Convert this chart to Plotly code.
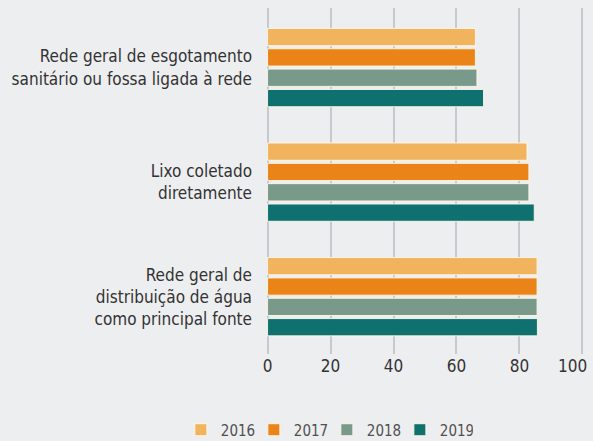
import plotly.graph_objects as go

categories = [
    "Rede geral de esgotamento<br>sanitário ou fossa ligada à rede",
    "Lixo coletado<br>diretamente",
    "Rede geral de<br>distribuição de água<br>como principal fonte",
]
years = ["2016", "2017", "2018", "2019"]
values_2016 = [66.0, 82.4, 85.6]
values_2017 = [66.0, 83.0, 85.6]
values_2018 = [66.5, 83.0, 85.6]
values_2019 = [68.6, 84.7, 85.7]
colors = ["#F2B35F", "#EA8418", "#79998A", "#0F7070"]
tick_vals = [0, 20, 40, 60, 80, 100]
tick_text = ["0", "20", "40", "60", "80", "100"]

series = [values_2016, values_2017, values_2018, values_2019]

FONT = "DejaVu Sans Condensed, Liberation Sans Narrow, sans-serif"
BG = "#EDEEF0"
XRANGE = [-0.5, 100.5]
TICKFONT = dict(size=17, color="#333333", family=FONT)

fig = go.Figure()
for year, vals, col in zip(years, series, colors):
    fig.add_trace(go.Bar(
        y=categories, x=vals, name=year, orientation="h",
        marker=dict(color=col, line=dict(color="rgba(255,248,232,0.9)", width=1)),
    ))

# the last tick label sits pulled inward (as in the original) so it stays inside the chart
fig.add_annotation(
    x=tick_vals[-1], xref="x", y=0, yref="paper", yanchor="top",
    text=tick_text[-1], showarrow=False, xshift=-10, font=TICKFONT,
)

fig.update_layout(
    width=593, height=441,
    paper_bgcolor=BG, plot_bgcolor=BG,
    margin=dict(l=266, r=9, t=8, b=87, autoexpand=False),
    barmode="group", bargap=0.29, bargroupgap=0.15,
    font=dict(family=FONT, color="#333333"),
    showlegend=True,
    legend=dict(
        orientation="h", xref="container", yref="container",
        x=0.305, xanchor="left", y=0.025, yanchor="middle",
        font=dict(size=15, color="#505050", family=FONT),
        entrywidth=28, bgcolor="rgba(0,0,0,0)",
    ),
    xaxis=dict(
        range=XRANGE, tickvals=tick_vals, ticktext=tick_text[:-1] + [""],
        showgrid=True, gridcolor="#C8C9CC", gridwidth=1.5,
        zeroline=False, showline=False, ticks="",
        automargin=False, tickfont=TICKFONT, fixedrange=True,
    ),
    yaxis=dict(
        type="category", categoryorder="array", categoryarray=categories,
        range=[2.5, -0.52], showgrid=False, zeroline=False, showline=False,
        ticks="", ticklabelstandoff=13, automargin=False,
        tickfont=TICKFONT,
    ),
)

fig.write_html(
    "out.html",
    config={"displayModeBar": False},
    post_script="document.body.style.margin='0px';document.body.style.overflow='hidden';",
)
